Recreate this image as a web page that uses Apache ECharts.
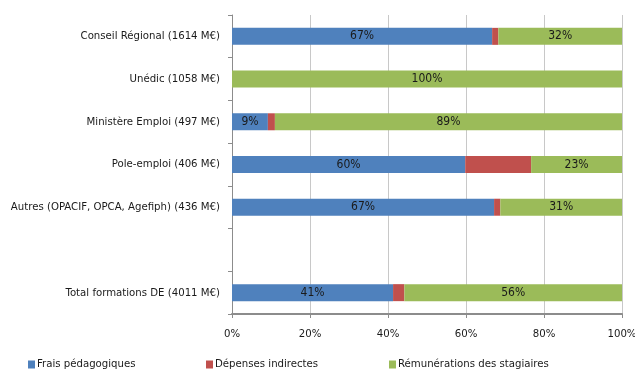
<!DOCTYPE html>
<html>
<head>
<meta charset="utf-8">
<script src="https://cdn.jsdelivr.net/npm/echarts@6/dist/echarts.min.js"></script>
<style>html,body{margin:0;padding:0;background:#fff}#c{width:635px;height:370px}</style>
</head>
<body>
<div id="c"></div>
<script>
const categories = ["Conseil Régional (1614 M€)", "Unédic (1058 M€)", "Ministère Emploi (497 M€)", "Pole-emploi (406 M€)", "Autres (OPACIF, OPCA, Agefiph) (436 M€)", "", "Total formations DE (4011 M€)"];
const fraisPedagogiques = [66.7, 0, 9.2, 59.8, 67.2, null, 41.3];
const depensesIndirectes = [1.6, 0, 1.8, 16.9, 1.6, null, 2.9];
const remunerations = [31.7, 100, 89.0, 23.3, 31.2, null, 55.8];
const seriesNames = ["Frais pédagogiques", "Dépenses indirectes", "Rémunérations des stagiaires"];
const xTicks = [0, 20, 40, 60, 80, 100];

const FONT = "'Liberation Sans Narrow', 'DejaVu Sans Condensed', sans-serif";
const colors = ["#4F81BD", "#C0504D", "#9BBB59"];
const FS = 11.3;

const chart = echarts.init(document.getElementById('c'), null, {renderer: 'canvas'});
function lbl(show) {
  return {
    show: show, position: 'inside', color: '#1a1a1a', fontFamily: FONT, fontSize: 12,
    formatter: p => (p.value > 0 ? Math.round(p.value) + '%' : '')
  };
}
const legendBase = {
  orient: 'horizontal', top: 354, itemWidth: 7, itemHeight: 8, itemGap: 0,
  icon: 'rect', textStyle: {fontFamily: FONT, fontSize: FS, color: '#1a1a1a', padding: [0, 0, 0, -3]}
};
chart.setOption({
  animation: false,
  color: colors,
  textStyle: {fontFamily: FONT},
  grid: {left: 232, right: 13, top: 15, bottom: 56, containLabel: false, outerBoundsMode: 'none'},
  legend: [
    Object.assign({}, legendBase, {left: 23, data: [seriesNames[0]]}),
    Object.assign({}, legendBase, {left: 201, data: [seriesNames[1]]}),
    Object.assign({}, legendBase, {left: 384, data: [seriesNames[2]]})
  ],
  xAxis: {
    type: 'value', min: xTicks[0], max: xTicks[xTicks.length - 1], interval: 20,
    axisLabel: {formatter: '{value}%', color: '#1a1a1a', fontFamily: FONT, fontSize: FS, margin: 15},
    axisLine: {show: true, lineStyle: {color: '#8c8c8c', width: 2}},
    axisTick: {show: true, length: 4, lineStyle: {color: '#8c8c8c'}},
    splitLine: {show: true, lineStyle: {color: '#c8c8c8', width: 1}}
  },
  yAxis: {
    type: 'category', inverse: true, data: categories,
    axisLabel: {color: '#1a1a1a', fontFamily: FONT, fontSize: FS, margin: 12},
    axisLine: {show: true, lineStyle: {color: '#8c8c8c', width: 1}},
    axisTick: {show: true, length: 4, lineStyle: {color: '#8c8c8c'}},
    splitLine: {show: false}
  },
  series: [
    {name: seriesNames[0], type: 'bar', stack: 's', barWidth: 17, data: fraisPedagogiques, label: lbl(true)},
    {name: seriesNames[1], type: 'bar', stack: 's', barWidth: 17, data: depensesIndirectes, label: lbl(false)},
    {name: seriesNames[2], type: 'bar', stack: 's', barWidth: 17, data: remunerations, label: lbl(true)}
  ]
});
</script>
</body>
</html>
